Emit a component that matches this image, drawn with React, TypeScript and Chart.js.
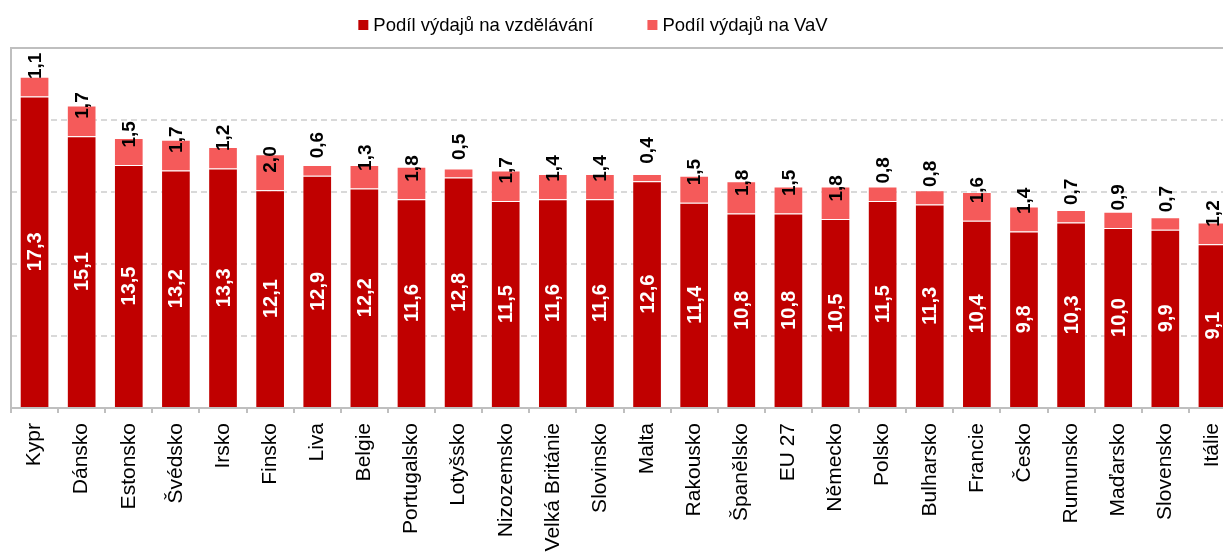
import React, { useEffect, useRef } from 'react';
import { Chart, registerables } from 'chart.js';

Chart.register(...registerables);

const categories = [
  'Kypr', 'Dánsko', 'Estonsko', 'Švédsko', 'Irsko', 'Finsko', 'Liva', 'Belgie',
  'Portugalsko', 'Lotyšsko', 'Nizozemsko', 'Velká Británie', 'Slovinsko', 'Malta',
  'Rakousko', 'Španělsko', 'EU 27', 'Německo', 'Polsko', 'Bulharsko', 'Francie',
  'Česko', 'Rumunsko', 'Maďarsko', 'Slovensko', 'Itálie',
];

const educationShare = [
  17.3, 15.1, 13.5, 13.2, 13.3, 12.1, 12.9, 12.2, 11.6, 12.8, 11.5, 11.6, 11.6,
  12.6, 11.4, 10.8, 10.8, 10.5, 11.5, 11.3, 10.4, 9.8, 10.3, 10.0, 9.9, 9.1,
];

const rdShare = [
  1.1, 1.7, 1.5, 1.7, 1.2, 2.0, 0.6, 1.3, 1.8, 0.5, 1.7, 1.4, 1.4,
  0.4, 1.5, 1.8, 1.5, 1.8, 0.8, 0.8, 1.6, 1.4, 0.7, 0.9, 0.7, 1.2,
];

const seriesLabels = ['Podíl výdajů na vzdělávání', 'Podíl výdajů na VaV'];
const seriesColors = ['#C00000', '#F55A5A'];
const gridValues = [4, 8, 12, 16];
const yMax = 20;

const FONT = '"Liberation Sans", Arial, sans-serif';
const fmt = (v: number) => v.toFixed(1).replace('.', ',');

const valueLabels = {
  id: 'valueLabels',
  afterDatasetsDraw(chart: any) {
    const ctx = chart.ctx;
    const meta = chart.getDatasetMeta(0);
    meta.data.forEach((bar: any, i: number) => {
      const { x, y, base } = bar.getProps(['x', 'y', 'base'], true);
      ctx.save();
      ctx.translate(x, (y + base) / 2);
      ctx.rotate(-Math.PI / 2);
      ctx.font = `bold 20px ${FONT}`;
      ctx.fillStyle = '#ffffff';
      ctx.textAlign = 'center';
      ctx.textBaseline = 'middle';
      ctx.fillText(fmt(educationShare[i]), 0, 1);
      ctx.restore();

      ctx.save();
      ctx.translate(x, y - 17.5);
      ctx.rotate(-Math.PI / 2);
      ctx.font = `bold 19px ${FONT}`;
      ctx.fillStyle = '#000000';
      ctx.textAlign = 'left';
      ctx.textBaseline = 'middle';
      ctx.fillText(fmt(rdShare[i]), 0, 1);
      ctx.restore();
    });
  },
};

const frame = {
  id: 'frame',
  beforeDatasetsDraw(chart: any) {
    const { ctx, chartArea } = chart;
    ctx.save();
    ctx.strokeStyle = '#BFBFBF';
    ctx.lineWidth = 2;
    ctx.beginPath();
    ctx.moveTo(chartArea.left, chartArea.bottom);
    ctx.lineTo(chartArea.left, chartArea.top);
    ctx.lineTo(chartArea.right + 2, chartArea.top);
    ctx.stroke();
    ctx.restore();
  },
};

const customLegend = {
  id: 'customLegend',
  afterDraw(chart: any) {
    const ctx = chart.ctx;
    const box = 10;
    const gapText = 5;
    const gapItem = 54;
    const centerX = 593;
    const cy = 25;
    ctx.save();
    ctx.font = `18.5px ${FONT}`;
    const widths = chart.data.datasets.map((d: any) => ctx.measureText(d.label).width);
    const total = widths.reduce((s: number, w: number) => s + box + gapText + w, 0) + gapItem * (widths.length - 1);
    let x = centerX - total / 2;
    chart.data.datasets.forEach((d: any, i: number) => {
      ctx.fillStyle = d.backgroundColor;
      ctx.fillRect(x, cy - box / 2, box, box);
      ctx.fillStyle = '#000000';
      ctx.textAlign = 'left';
      ctx.textBaseline = 'middle';
      ctx.fillText(d.label, x + box + gapText, cy + 1);
      x += box + gapText + widths[i] + gapItem;
    });
    ctx.restore();
  },
};

export default function App() {
  const ref = useRef<HTMLCanvasElement>(null);

  useEffect(() => {
    if (!ref.current) return;
    const chart = new Chart(ref.current, {
      type: 'bar',
      data: {
        labels: categories,
        datasets: [
          {
            label: seriesLabels[0],
            data: educationShare,
            backgroundColor: seriesColors[0],
            borderColor: 'rgba(255,255,255,0.35)',
            borderWidth: 1,
            categoryPercentage: 1,
            barPercentage: 0.63,
          },
          {
            label: seriesLabels[1],
            data: rdShare,
            backgroundColor: seriesColors[1],
            borderColor: 'rgba(255,255,255,0.35)',
            borderWidth: 1,
            categoryPercentage: 1,
            barPercentage: 0.63,
          },
        ],
      },
      options: {
        animation: false,
        responsive: true,
        maintainAspectRatio: false,
        layout: { padding: { top: 48, left: 11, right: 0, bottom: 0 } },
        plugins: {
          legend: { display: false },
          tooltip: { enabled: false },
        },
        scales: {
          x: {
            stacked: true,
            afterFit: (scale: any) => {
              scale.height = 144;
              scale.paddingLeft = 0;
              scale.paddingRight = 0;
            },
            border: { display: true, color: '#BFBFBF', width: 2 },
            grid: {
              display: true,
              offset: true,
              drawOnChartArea: false,
              drawTicks: true,
              tickLength: 5,
              color: '#BFBFBF',
              lineWidth: 2,
            },
            ticks: {
              autoSkip: false,
              maxRotation: 90,
              minRotation: 90,
              padding: 10,
              color: '#000000',
              font: { family: FONT, size: 21 },
            },
          },
          y: {
            stacked: true,
            min: 0,
            max: yMax,
            afterFit: (scale: any) => { scale.width = 0; },
            border: { display: false, dash: [6, 4] },
            grid: {
              drawTicks: false,
              lineWidth: 2,
              color: (c: any) => (gridValues.includes(c.tick?.value) ? '#D9D9D9' : 'rgba(0,0,0,0)'),
            },
            ticks: { display: false, stepSize: 4 },
          },
        },
      },
      plugins: [frame, valueLabels, customLegend],
    });
    return () => chart.destroy();
  }, []);

  return (
    <div style={{ position: 'fixed', left: 0, top: 0, width: 1223, height: 552, overflow: 'hidden', background: '#ffffff' }}>
      <div style={{ position: 'relative', width: 1236, height: 552 }}>
        <canvas ref={ref} />
      </div>
    </div>
  );
}
